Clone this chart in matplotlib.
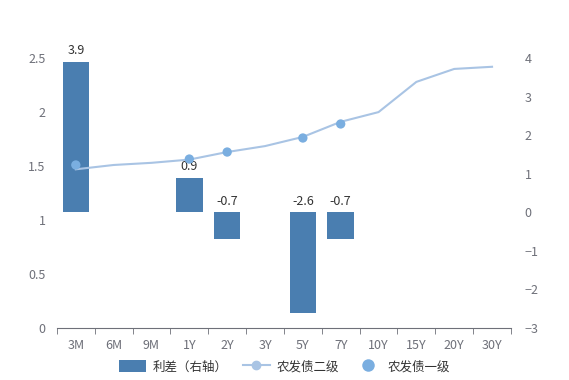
import matplotlib.pyplot as plt
import numpy as np
from matplotlib.ticker import FuncFormatter
from matplotlib.patches import Patch
from matplotlib.lines import Line2D

plt.rcParams['font.family'] = ['Noto Sans CJK SC', 'DejaVu Sans']

terms = ['3M', '6M', '9M', '1Y', '2Y', '3Y', '5Y', '7Y', '10Y', '15Y', '20Y', '30Y']
secondary = [1.47, 1.51, 1.53, 1.56, 1.63, 1.685, 1.77, 1.91, 2.0, 2.28, 2.40, 2.42]
primary_terms = ['3M', '1Y', '2Y', '5Y', '7Y']
primary = [1.51, 1.565, 1.63, 1.76, 1.89]
spread = [3.9, 0.9, -0.7, -2.6, -0.7]

grey = '#6e7079'
x = np.arange(len(terms))
px = [terms.index(t) for t in primary_terms]

fig = plt.figure(figsize=(5.69, 3.8), dpi=100)
ax = fig.add_axes([0.1, 0.137, 0.798, 0.71])
ax2 = ax.twinx()

ax2.bar(px, spread, width=0.7, color='#4a7eb0', zorder=1)
for xi, v in zip(px, spread):
    ax2.text(xi, v + 0.12 if v > 0 else 0.12, f'{v:.1f}', ha='center', va='bottom',
             fontsize=9, color='#333333')

# lines above bars
ax.set_zorder(ax2.get_zorder() + 1)
ax.patch.set_visible(False)
ax.plot(x, secondary, color='#a9c4e4', lw=1.5, zorder=3)
ax.scatter(px, primary, s=45, color='#7aaee0', zorder=4, edgecolors='none')

ax.set_xlim(-0.5, len(terms) - 0.5)
ax.set_ylim(0, 2.5)
ax.set_yticks([0, 0.5, 1, 1.5, 2, 2.5])
ax.yaxis.set_major_formatter(FuncFormatter(lambda v, p: f'{v:g}'))
ax2.set_ylim(-3, 4)
ax2.set_yticks(range(-3, 5))

ax.set_xticks(x)
ax.set_xticklabels(terms)
ax.set_xticks(np.arange(-0.5, len(terms)), minor=True)
ax.tick_params(axis='x', which='major', length=0, labelsize=9, colors=grey, pad=8)
ax.tick_params(axis='x', which='minor', length=4, color=grey)
ax.tick_params(axis='y', length=0, labelsize=9, colors=grey, pad=8)
ax2.tick_params(axis='y', length=0, labelsize=9, colors=grey, pad=10)

for a in (ax, ax2):
    for s in ['top', 'left', 'right']:
        a.spines[s].set_visible(False)
ax.spines['bottom'].set_color(grey)
ax2.spines['bottom'].set_visible(False)

handles = [
    Patch(facecolor='#4a7eb0', label='利差（右轴）'),
    Line2D([0], [0], color='#a9c4e4', lw=1.5, marker='o', markersize=6,
           markerfacecolor='#a9c4e4', markeredgecolor='#a9c4e4', label='农发债二级'),
    Line2D([0], [0], color='none', marker='o', markersize=9,
           markerfacecolor='#7aaee0', markeredgecolor='none', label='农发债一级'),
]
fig.legend(handles=handles, loc='center', bbox_to_anchor=(0.5, 0.035), ncol=3,
           frameon=False, fontsize=9, handlelength=2.2, handleheight=1.1,
           columnspacing=1.2, handletextpad=0.5, labelcolor='#333333')

fig.savefig('out.png', dpi=100)
